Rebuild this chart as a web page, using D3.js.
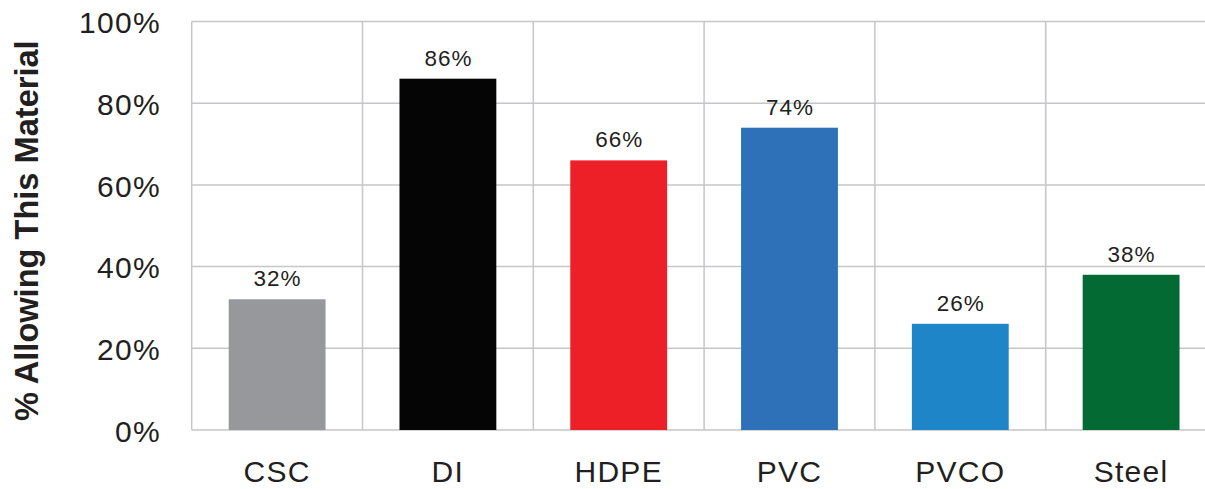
<!DOCTYPE html>
<html><head><meta charset="utf-8">
<script src="https://cdn.jsdelivr.net/npm/d3@7"></script>
<style>html,body{margin:0;padding:0;background:#fff;overflow:hidden}svg{display:block;font-family:"Liberation Sans",Arial,Helvetica,sans-serif}</style>
</head><body>
<svg id="c" width="1205" height="489"></svg>
<script>
const categories = ["CSC","DI","HDPE","PVC","PVCO","Steel"];
const values = [32, 86, 66, 74, 26, 38];
const barColors = ["#97989c","#050505","#ed1f27","#2e71b8","#1e86c8","#026a32"];
const yTicks = [0,20,40,60,80,100];
const yTitle = "% Allowing This Material";

(function(){
const svg = d3.select("#c");
const pL = 191.7, pR = 1216.5, pT = 21.5, pB = 430;
const x = d3.scaleBand().domain(categories).range([pL, pR]).paddingInner(0).paddingOuter(0);
const y = d3.scaleLinear().domain([0,100]).range([pB, pT]);
const barW = x.bandwidth()*0.567;
const txt = "#231f20", grid = "#c6c6ca";

// horizontal gridlines
svg.append("g").selectAll("line").data(yTicks).join("line")
  .attr("x1", pL).attr("x2", pR)
  .attr("y1", d=>y(d)).attr("y2", d=>y(d))
  .attr("stroke", grid).attr("stroke-width", 1.5);
// vertical gridlines
const vb = categories.map(c=>x(c)).concat([pR]);
svg.append("g").selectAll("line").data(vb).join("line")
  .attr("x1", d=>d).attr("x2", d=>d)
  .attr("y1", pT).attr("y2", pB)
  .attr("stroke", grid).attr("stroke-width", 1.5);

// bars
svg.append("g").selectAll("rect").data(categories).join("rect")
  .attr("x", c=>x(c)+x.bandwidth()/2-barW/2)
  .attr("width", barW)
  .attr("y", (c,i)=>y(values[i]))
  .attr("height", (c,i)=>y(0)-y(values[i]))
  .attr("fill", (c,i)=>barColors[i]);

// value labels
svg.append("g").selectAll("text").data(categories).join("text")
  .attr("x", c=>x(c)+x.bandwidth()/2+0.5)
  .attr("y", (c,i)=>y(values[i])-13)
  .attr("text-anchor","middle").attr("font-size", 22.5).attr("letter-spacing", "1px").attr("fill", txt)
  .text((c,i)=>values[i]+"%");

// y axis labels
const yAxis = d3.axisLeft(y).tickValues(yTicks).tickFormat(d=>d+"%").tickSize(0).tickPadding(0);
const ga = svg.append("g").attr("transform", `translate(161,0)`).call(yAxis);
ga.attr("font-family", null).attr("font-size", null);
ga.select(".domain").remove();
ga.selectAll("text").attr("font-size", 30).attr("letter-spacing", "1.3px").attr("fill", txt).attr("dy", "0.37em");

// x axis labels
const xAxis = d3.axisBottom(x).tickSize(0).tickPadding(0);
const gx = svg.append("g").attr("transform", `translate(0,${pB})`).call(xAxis);
gx.attr("font-family", null).attr("font-size", null);
gx.select(".domain").remove();
gx.selectAll("text").attr("font-size", 30).attr("letter-spacing", "1.3px").attr("fill", txt).attr("dy", null).attr("y", 52);

// y title
svg.append("text")
  .attr("transform", "translate(37.5,230.7) rotate(-90)")
  .attr("text-anchor","middle").attr("font-size", 32.6).attr("font-weight","bold").attr("fill", txt)
  .text(yTitle);
})();
</script>
</body></html>
